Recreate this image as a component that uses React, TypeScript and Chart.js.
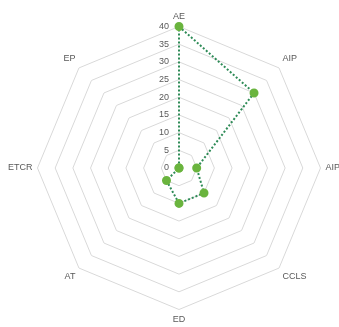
import React, { useEffect, useRef } from "react";
import { Chart, registerables } from "chart.js";

Chart.register(...registerables);

const categories = ["AE", "AIP", "AIP", "CCLS", "ED", "AT", "ETCR", "EP"];
const seriesValues = [40, 30, 5, 10, 10, 5, 0, 0];
const tickValues = [0, 5, 10, 15, 20, 25, 30, 35, 40];

const FONT = "'Liberation Sans', 'DejaVu Sans', sans-serif";

const CANVAS_LEFT = 4;
const CANVAS_TOP = -20;
const CANVAS_W = 342;
const CANVAS_H = 376;

const tickLabelPlugin = {
  id: "leftTicks",
  afterDatasetsDraw(chart: any) {
    const scale = chart.scales.r;
    const ctx = chart.ctx;
    ctx.save();
    ctx.font = `9px ${FONT}`;
    ctx.fillStyle = "#595959";
    ctx.textAlign = "right";
    ctx.textBaseline = "middle";
    tickValues.forEach((v) => {
      const d = scale.getDistanceFromCenterForValue(v);
      ctx.fillText(String(v), scale.xCenter - 10, scale.yCenter - d);
    });
    ctx.restore();
  },
};

export default function App() {
  const ref = useRef<HTMLCanvasElement | null>(null);
  useEffect(() => {
    document.body.style.margin = "0";
    const chart = new Chart(ref.current!, {
      type: "radar",
      data: {
        labels: categories,
        datasets: [
          {
            data: seriesValues,
            borderColor: "#2e8b57",
            borderWidth: 2,
            borderDash: [2, 2],
            backgroundColor: "transparent",
            fill: false,
            pointBackgroundColor: "#6ab43e",
            pointBorderColor: "#6ab43e",
            pointRadius: 3.5,
            tension: 0,
          },
        ],
      },
      options: {
        animation: false,
        responsive: false,
        maintainAspectRatio: false,
        layout: { padding: 0 },
        plugins: { legend: { display: false }, tooltip: { enabled: false } },
        scales: {
          r: {
            min: 0,
            max: 40,
            ticks: { stepSize: 5, display: false },
            angleLines: { display: false },
            grid: { color: "#d9d9d9", lineWidth: 1 },
            pointLabels: {
              color: "#595959",
              font: { size: 9, family: FONT },
              padding: 5,
            },
          },
        },
      },
      plugins: [tickLabelPlugin],
    });
    return () => chart.destroy();
  }, []);
  return (
    <div style={{ position: "relative", width: 339, height: 327, overflow: "hidden" }}>
      <canvas
        ref={ref}
        width={CANVAS_W}
        height={CANVAS_H}
        style={{ position: "absolute", left: CANVAS_LEFT, top: CANVAS_TOP, display: "block" }}
      />
    </div>
  );
}
